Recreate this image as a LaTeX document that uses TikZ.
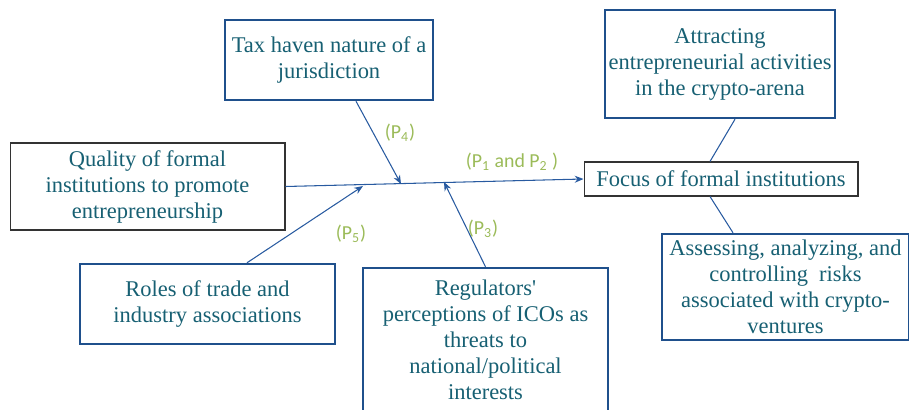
\documentclass[tikz,border=0pt]{standalone}
\usepackage{fontspec}
\newfontfamily\boxfont{Liberation Serif}
\newfontfamily\labelfont{Carlito}
\usetikzlibrary{positioning, arrows.meta, calc}

\definecolor{boxtext}{RGB}{23,96,115}
\definecolor{boxblue}{RGB}{31,80,140}
\definecolor{linkblue}{RGB}{40,90,160}
\definecolor{labgreen}{RGB}{155,187,89}

\begin{document}
\begin{tikzpicture}[
        x=0.02cm, y=-0.02cm,
        factor/.style={rectangle, draw=boxblue, line width=1.4pt, fill=white, align=center, text=boxtext, font=\boxfont\fontsize{12.8}{14.8}\selectfont, inner sep=2pt},
        core/.style={rectangle, draw=black!80, line width=0.6pt, fill=white, align=center, text=boxtext, font=\boxfont\fontsize{12.8}{14.8}\selectfont, inner sep=2pt},
        plabel/.style={text=labgreen, font=\labelfont\fontsize{11.3}{13}\selectfont, inner sep=1pt},
        arrow/.style={-{Stealth[length=5pt, width=4pt]}, draw=linkblue, line width=0.6pt},
        link/.style={draw=linkblue, line width=0.6pt}
    ]
    \useasboundingbox (0,0) rectangle (909,409);

    % Central boxes
    \node[core, minimum width=5.5cm, minimum height=1.74cm] (quality) at (147.5,186.5) {Quality of formal\\institutions to promote\\entrepreneurship};
    \node[core, minimum width=5.48cm, minimum height=0.68cm] (focus) at (721,179) {Focus of formal institutions};

    % Influencing factors
    \node[factor, minimum width=4.16cm, minimum height=1.6cm] (tax) at (329,60) {Tax haven nature of a\\jurisdiction};
    \node[factor, minimum width=5.1cm, minimum height=1.6cm] (roles) at (207.5,304) {Roles of trade and\\industry associations};
    \node[factor, minimum width=4.9cm, minimum height=2.88cm] (regul) at (485.5,340) {Regulators'\\perceptions of ICOs as\\threats to\\national/political\\interests};

    % Outcomes
    \node[factor, minimum width=4.6cm, minimum height=2.16cm] (attract) at (720,64) {Attracting\\entrepreneurial activities\\in the crypto-arena};
    \node[factor, minimum width=4.94cm, minimum height=2.12cm] (assess) at (785.5,287) {Assessing, analyzing, and\\controlling\ \ risks\\associated with crypto-\\ventures};

    % Points on the main line
    \coordinate (j5) at (363,186);
    \coordinate (j4) at (401,184);
    \coordinate (j3) at (444,182);

    % Main line
    \draw[arrow] (quality.east) -- (focus.west);

    % Factor arrows
    \draw[arrow] ([xshift=0.54cm]tax.south) -- (j4);
    \draw[arrow] ([xshift=0.79cm]roles.north) -- (j5);
    \draw[arrow] (regul.north) -- (j3);

    % Outcome links
    \draw[link] ([xshift=0.3cm]attract.south) -- ([xshift=-0.22cm]focus.north);
    \draw[link] ([xshift=-0.22cm]focus.south) -- ([xshift=-1.05cm]assess.north);

    % Proposition labels
    \node[plabel] (p4) at (400,133) {(P\textsubscript{4})};
    \node[plabel] (p12) at (512,162) {(P\textsubscript{1} and P\textsubscript{2} )};
    \node[plabel] (p5) at (351,234) {(P\textsubscript{5})};
    \node[plabel] (p3) at (483,229) {(P\textsubscript{3})};

\end{tikzpicture}
\end{document}
